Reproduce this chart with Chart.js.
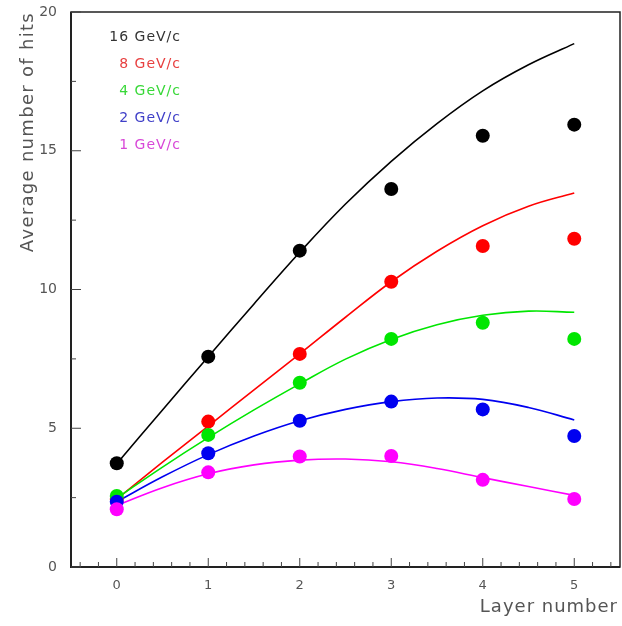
<!DOCTYPE html>
<html>
<head>
<meta charset="utf-8">
<script src="https://cdn.jsdelivr.net/npm/chart.js@4/dist/chart.umd.min.js"></script>
<style>
  html, body { margin: 0; padding: 0; background: #ffffff; }
  #wrap { width: 622px; height: 626px; position: relative; }
</style>
</head>
<body>
<div id="wrap"><canvas id="c" width="622" height="626"></canvas></div>
<script>
// ---- data ----
const layers = [0, 1, 2, 3, 4, 5];
const hits16 = [3.74, 7.58, 11.40, 13.62, 15.54, 15.94];
const hits8  = [2.45, 5.24, 7.68, 10.28, 11.57, 11.83];
const hits4  = [2.56, 4.76, 6.64, 8.22, 8.80, 8.22];
const hits2  = [2.35, 4.10, 5.27, 5.96, 5.68, 4.72];
const hits1  = [2.08, 3.41, 3.98, 4.00, 3.14, 2.45];

const fitX  = [0, 0.5, 1, 1.5, 2, 2.5, 3, 3.5, 4, 4.5, 5];
const fit16 = [3.72, 5.66, 7.58, 9.48, 11.34, 13.08, 14.62, 15.98, 17.16, 18.10, 18.86];
const fit8  = [2.45, 3.78, 5.08, 6.38, 7.68, 9.00, 10.28, 11.38, 12.30, 13.00, 13.48];
const fit4  = [2.48, 3.60, 4.66, 5.66, 6.60, 7.49, 8.20, 8.73, 9.07, 9.22, 9.18];
const fit2  = [2.35, 3.25, 4.05, 4.72, 5.27, 5.68, 5.96, 6.09, 6.04, 5.75, 5.30];
const fit1  = [2.22, 2.86, 3.36, 3.68, 3.85, 3.89, 3.79, 3.55, 3.22, 2.90, 2.58];

const seriesLabels = ['16 GeV/c', '8 GeV/c', '4 GeV/c', '2 GeV/c', '1 GeV/c'];
const xTicks = [0, 1, 2, 3, 4, 5];
const xMinorTicks = [-0.4,-0.2,0.2,0.4,0.6,0.8,1.2,1.4,1.6,1.8,2.2,2.4,2.6,2.8,3.2,3.4,3.6,3.8,4.2,4.4,4.6,4.8,5.2,5.4];
const yTicks = [0, 5, 10, 15, 20];
const yMinorTicks = [2.5, 7.5, 12.5, 17.5];
const xTitle = 'Layer number';
const yTitle = 'Average number of hits';

// ---- styling ----
const markColors = ['#000000', '#ff0000', '#00e600', '#0000f0', '#ff00ff'];
const textColors = ['#333333', '#e84040', '#38d838', '#4040c8', '#d848d8'];
const FONT = '"DejaVu Sans", sans-serif';

const pointSets = [hits16, hits8, hits4, hits2, hits1];
const fitSets = [fit16, fit8, fit4, fit2, fit1];

const datasets = [];
fitSets.forEach((arr, i) => {
  datasets.push({
    type: 'line',
    label: seriesLabels[i] + ' fit',
    data: fitX.map((x, k) => ({ x: x, y: arr[k] })),
    borderColor: markColors[i],
    borderWidth: 1.6,
    pointRadius: 0,
    tension: 0.4,
    fill: false,
    order: 20 - i
  });
});
pointSets.forEach((arr, i) => {
  datasets.push({
    type: 'scatter',
    label: seriesLabels[i],
    data: layers.map((x, k) => ({ x: x, y: arr[k] })),
    backgroundColor: markColors[i],
    borderColor: markColors[i],
    pointRadius: 7,
    pointBorderWidth: 0,
    showLine: false,
    order: 10 - i
  });
});

const decor = {
  id: 'decor',
  afterDraw(chart) {
    const ctx = chart.ctx;
    const a = chart.chartArea;
    const xs = chart.scales.x, ys = chart.scales.y;
    ctx.save();
    // frame
    ctx.strokeStyle = '#222222';
    ctx.lineWidth = 1.5;
    ctx.strokeRect(a.left, a.top, a.right - a.left, a.bottom - a.top);
    ctx.lineWidth = 2;
    ctx.beginPath();
    ctx.moveTo(a.left, a.top); ctx.lineTo(a.left, a.bottom); ctx.lineTo(a.right, a.bottom);
    ctx.stroke();
    // inward ticks
    ctx.lineWidth = 1;
    ctx.strokeStyle = '#444444';
    ctx.beginPath();
    xTicks.forEach(v => { const p = xs.getPixelForValue(v); ctx.moveTo(p, a.bottom); ctx.lineTo(p, a.bottom - 9); });
    xMinorTicks.forEach(v => { const p = xs.getPixelForValue(v); ctx.moveTo(p, a.bottom); ctx.lineTo(p, a.bottom - 5); });
    yTicks.forEach(v => { const p = ys.getPixelForValue(v); ctx.moveTo(a.left, p); ctx.lineTo(a.left + 10, p); });
    yMinorTicks.forEach(v => { const p = ys.getPixelForValue(v); ctx.moveTo(a.left, p); ctx.lineTo(a.left + 5, p); });
    ctx.stroke();
    // legend text
    ctx.font = '14px ' + FONT;
    ctx.letterSpacing = '1px';
    ctx.textAlign = 'right';
    ctx.textBaseline = 'middle';
    seriesLabels.forEach((t, i) => {
      ctx.fillStyle = textColors[i];
      ctx.fillText(t, 181, 37 + i * 27);
    });
    // axis titles
    ctx.fillStyle = '#555555';
    ctx.font = '18px ' + FONT;
    ctx.letterSpacing = '1px';
    ctx.textAlign = 'right';
    ctx.fillText(xTitle, 618, 607);
    ctx.letterSpacing = '1.3px';
    ctx.translate(28, 12);
    ctx.rotate(-Math.PI / 2);
    ctx.textAlign = 'right';
    ctx.fillText(yTitle, 0, 0);
    ctx.restore();
  }
};

new Chart(document.getElementById('c'), {
  data: { datasets: datasets },
  options: {
    responsive: false,
    animation: false,
    events: [],
    layout: { autoPadding: false, padding: { top: 12, right: 2, left: 0, bottom: 0 } },
    plugins: { legend: { display: false }, tooltip: { enabled: false }, title: { display: false } },
    scales: {
      x: {
        type: 'linear',
        min: -0.5, max: 5.5,
        grid: { display: false, drawTicks: false },
        border: { display: false },
        afterBuildTicks: s => { s.ticks = xTicks.map(v => ({ value: v })); },
        afterFit: s => { s.height = 59; s.paddingLeft = 0; s.paddingRight = 0; },
        ticks: { padding: 11, color: '#555555', font: { family: FONT, size: 13 }, maxRotation: 0 }
      },
      y: {
        type: 'linear',
        min: 0, max: 20,
        grid: { display: false, drawTicks: false },
        border: { display: false },
        afterBuildTicks: s => { s.ticks = yTicks.map(v => ({ value: v })); },
        afterFit: s => { s.width = 71; s.paddingTop = 0; s.paddingBottom = 0; },
        ticks: { padding: 14, color: '#555555', font: { family: FONT, size: 14 } }
      }
    }
  },
  plugins: [decor]
});
</script>
</body>
</html>
